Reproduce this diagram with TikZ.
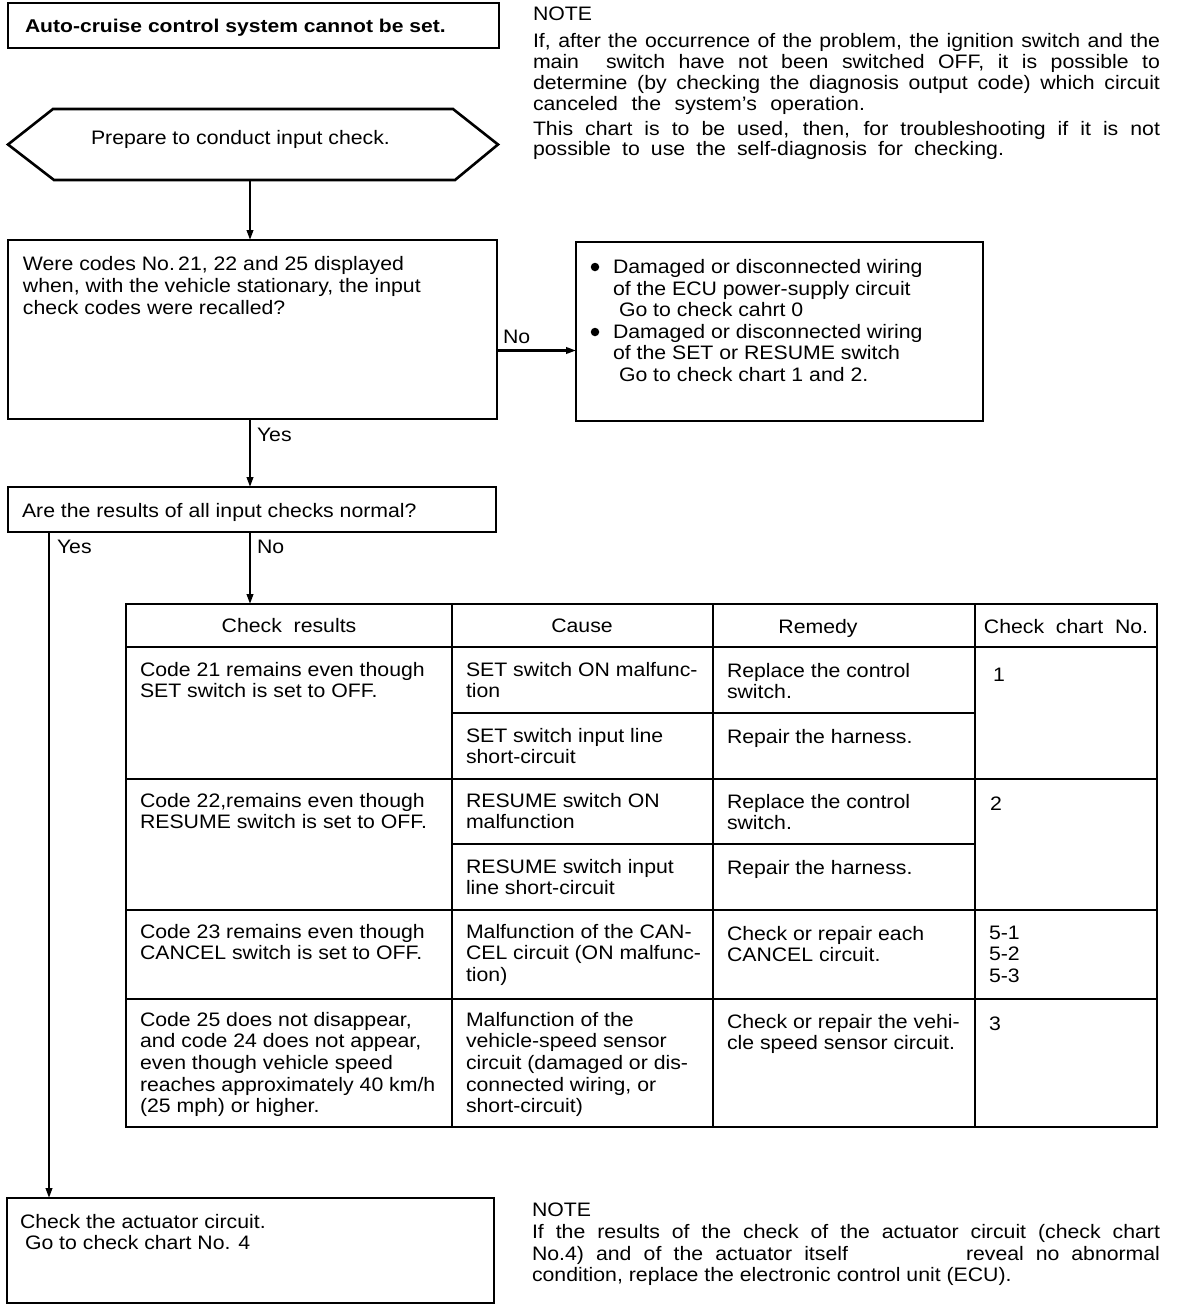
\documentclass[tikz,border=0pt]{standalone}
\usepackage{fontspec}
\usepackage{graphicx}
\setmainfont{Liberation Sans}[FakeStretch=1.09]
\newfontfamily\titlefont{Liberation Sans}[FakeStretch=1.14]
\usetikzlibrary{arrows.meta}
\newcommand\tlines[5]{\foreach \l [count=\i] in {#5}{\node[txt] (#1-\i) at (#2,{#3+(\i-1)*#4}) {\l};}}
\newcommand\jtext[5]{\node[txt] (#1) at (#2,#3) {\makebox[#4pt][s]{#5}};}
\tikzset{
  box/.style={draw, line width=2.8pt, anchor=north west, inner sep=0pt, outer sep=0pt},
  txt/.style={anchor=base west, inner sep=0pt, outer sep=0pt, font=\fontsize{19.5}{21.5}\selectfont},
  ctxt/.style={txt, anchor=base},
  conn/.style={line width=2.2pt, -{Triangle[length=10pt,width=6.5pt]}},
  gridline/.style={line width=2.8pt},
  dot/.style={circle, fill, inner sep=0pt, minimum size=8.5pt},
}
\begin{document}
\begin{tikzpicture}[x=1pt,y=-1pt]
\useasboundingbox (0,0) rectangle (1184,1310);
\fill[white] (0,0) rectangle (1184,1310);

% title
\node[box, minimum width=491, minimum height=45] (title) at (8,3) {};
\node[txt, font=\fontsize{18.5}{20}\titlefont\bfseries] (titletext) at (25,32) {Auto-cruise control system cannot be set.};

% top note
\node[txt] (note1) at (533,20.5) {NOTE};
\jtext{note1a}{533}{47}{627}{If, after the occurrence of the problem, the ignition switch and the}
\jtext{note1b}{533}{68.3}{627}{main\ \ switch have not been switched OFF, it is possible to}
\jtext{note1c}{533}{89.5}{627}{determine (by checking the diagnosis output code) which circuit}
\jtext{note1d}{533}{110}{332}{canceled the system's operation.}
\jtext{note1e}{533}{135}{627}{This chart is to be used, then, for troubleshooting if it is not}
\jtext{note1f}{533}{155}{471}{possible to use the self-diagnosis for checking.}

% hexagon
\node[anchor=north west, inner sep=0pt, outer sep=0pt, minimum width=490, minimum height=71] (hex) at (8,109) {};
\draw[line width=2.6pt] (hex.west) -- ([xshift=45pt]hex.north west) -- ([xshift=-45pt]hex.north east)
  -- (hex.east) -- ([xshift=-43pt]hex.south east) -- ([xshift=46pt]hex.south west) -- cycle;
\node[txt] (hextext) at (91,144) {Prepare to conduct input check.};

% question 1
\node[box, minimum width=489, minimum height=179] (q1) at (8,240) {};
\tlines{q1t}{23}{270}{22}{{Were codes No.\,21, 22 and 25 displayed},{when, with the vehicle stationary, the input},{check codes were recalled?}}

% No box
\node[box, minimum width=407, minimum height=179] (nobox) at (576,242) {};
\node[dot] (b1) at (595,267) {};
\node[dot] (b2) at (595,332) {};
\tlines{nb}{613}{273.5}{21.6}{{Damaged or disconnected wiring},{of the ECU power-supply circuit}}
\node[txt] (nb-3) at (619,316.5) {Go to check cahrt 0};
\tlines{nc}{613}{338}{21.6}{{Damaged or disconnected wiring},{of the SET or RESUME switch}}
\node[txt] (nc-3) at (619,381.5) {Go to check chart 1 and 2.};

% question 2
\node[box, minimum width=488, minimum height=45] (q2) at (8,487) {};
\node[txt] (q2text) at (22,517) {Are the results of all input checks normal?};

% table
\node[box, minimum width=1031, minimum height=523] (tbl) at (126,604) {};
\draw[gridline] (452,604) -- (452,1127);
\draw[gridline] (713,604) -- (713,1127);
\draw[gridline] (975,604) -- (975,1127);
\draw[gridline] (126,647) -- (1157,647);
\draw[gridline] (452,713) -- (975,713);
\draw[gridline] (126,779) -- (1157,779);
\draw[gridline] (452,844) -- (975,844);
\draw[gridline] (126,910) -- (1157,910);
\draw[gridline] (126,999) -- (1157,999);

\node[ctxt] (h1) at (289,632) {Check\ \ results};
\node[ctxt] (h2) at (582,632) {Cause};
\node[ctxt] (h3) at (818,633) {Remedy};
\node[ctxt] (h4) at (1066,633) {Check\ \ chart\ \ No.};

\tlines{r1a}{140}{676}{21}{{Code 21 remains even though},{SET switch is set to OFF.}}
\tlines{r1b}{466}{676}{21}{{SET switch ON malfunc-},{tion}}
\tlines{r1c}{727}{677}{21}{{Replace the control},{switch.}}
\node[txt] (r1d) at (993,681) {1};
\tlines{r1e}{466}{742}{21}{{SET switch input line},{short-circuit}}
\node[txt] (r1f) at (727,743) {Repair the harness.};

\tlines{r2a}{140}{807}{21}{{Code 22,remains even though},{RESUME switch is set to OFF.}}
\tlines{r2b}{466}{807}{21}{{RESUME switch ON},{malfunction}}
\tlines{r2c}{727}{808}{21}{{Replace the control},{switch.}}
\node[txt] (r2d) at (990,810) {2};
\tlines{r2e}{466}{873}{21}{{RESUME switch input},{line short-circuit}}
\node[txt] (r2f) at (727,874) {Repair the harness.};

\tlines{r3a}{140}{938}{21.5}{{Code 23 remains even though},{CANCEL switch is set to OFF.}}
\tlines{r3b}{466}{938}{21.5}{{Malfunction of the CAN-},{CEL circuit (ON malfunc-},{tion)}}
\tlines{r3c}{727}{940}{21.5}{{Check or repair each},{CANCEL circuit.}}
\tlines{r3d}{989}{939}{21.5}{{5-1},{5-2},{5-3}}

\tlines{r4a}{140}{1026}{21.7}{{Code 25 does not disappear,},{and code 24 does not appear,},{even though vehicle speed},{reaches approximately 40 km/h},{(25 mph) or higher.}}
\tlines{r4b}{466}{1026}{21.7}{{Malfunction of the},{vehicle-speed sensor},{circuit (damaged or dis-},{connected wiring, or},{short-circuit)}}
\tlines{r4c}{727}{1028}{21.7}{{Check or repair the vehi-},{cle speed sensor circuit.}}
\node[txt] (r4d) at (989,1030) {3};

% actuator box
\node[box, minimum width=487, minimum height=105] (act) at (7,1198) {};
\node[txt] (act1) at (20,1228) {Check the actuator circuit.};
\node[txt] (act2) at (25,1249) {Go to check chart No. 4};

% bottom note
\node[txt] (note2) at (532,1216) {NOTE};
\jtext{note2a}{532}{1238}{628}{If the results of the check of the actuator circuit (check chart}
\jtext{note2b}{532}{1260}{316}{No.4) and of the actuator itself}
\jtext{note2c}{966}{1260}{194}{reveal no abnormal}
\node[txt] (note2d) at (532,1281) {condition, replace the electronic control unit (ECU).};

% connectors
\draw[conn] ([xshift=-3pt]hex.south) -- ([xshift=-3pt]hex.south |- q1.north);
\draw[conn] ([yshift=-21pt]q1.east) -- ([yshift=-19pt]nobox.west);
\node[txt] (lno1) at (503,343) {No};
\draw[conn] ([xshift=-2.5pt]q1.south) -- ([xshift=-2.5pt]q1.south |- q2.north);
\node[txt] (lyes1) at (257,441) {Yes};
\draw[conn] ([xshift=-2pt]q2.south) -- ([xshift=-2pt]q2.south |- tbl.north);
\node[txt] (lno2) at (257,553) {No};
\draw[conn] ([xshift=41pt]q2.south west) -- ([xshift=41pt]q2.south west |- act.north);
\node[txt] (lyes2) at (57,553) {Yes};
\end{tikzpicture}
\end{document}
